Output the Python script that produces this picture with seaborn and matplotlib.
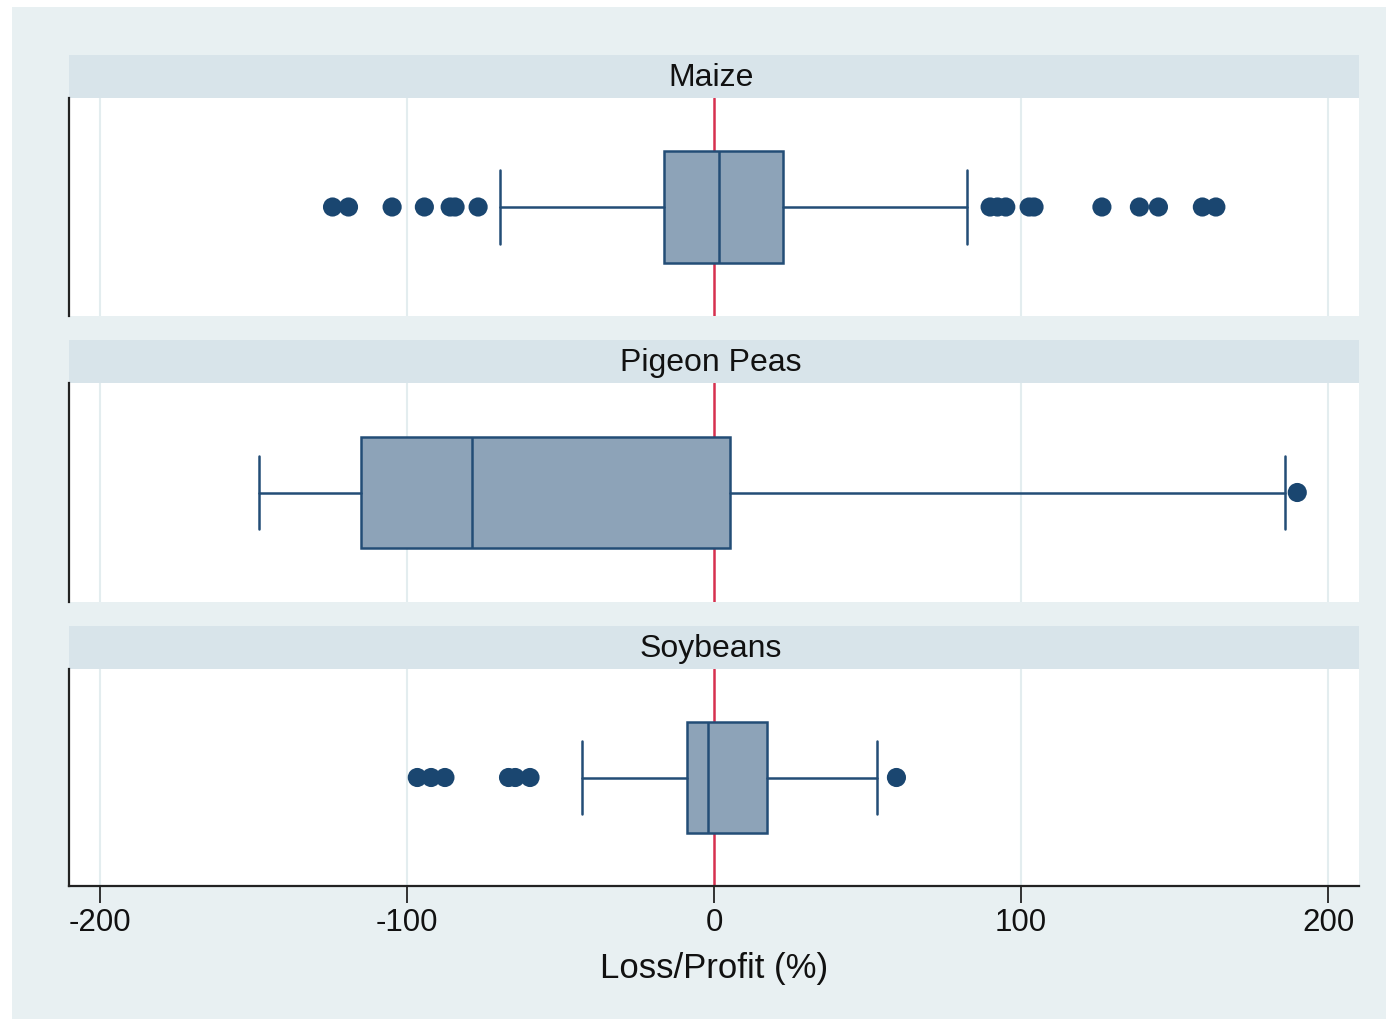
import numpy as np
import pandas as pd
import matplotlib
matplotlib.use("Agg")
import matplotlib.pyplot as plt
from matplotlib.patches import Rectangle
import seaborn as sns

# ---------------- data ----------------
crops = ["Maize", "Pigeon Peas", "Soybeans"]
whisker_low = [-69.6, -148.1, -43.0]
q1 = [-16.3, -114.9, -8.9]
median = [1.6, -78.8, -2.1]
q3 = [22.5, 5.2, 17.1]
whisker_high = [82.3, 185.8, 53.1]
outliers_maize = [-124.2, -119.0, -104.8, -94.3, -85.9, -84.3, -76.8,
                  89.9, 92.3, 95.0, 102.6, 104.2, 126.3, 138.5, 144.7, 159.0, 163.4]
outliers_pigeon = [189.9]
outliers_soy = [-96.6, -92.1, -87.6, -66.9, -64.7, -59.9, 59.4]
outliers = [outliers_maize, outliers_pigeon, outliers_soy]
xticks = [-200, -100, 0, 100, 200]
xlabel = "Loss/Profit (%)"

# ---------------- style ----------------
sns.set_theme(style="white")
plt.rcParams["font.family"] = ["Liberation Sans", "DejaVu Sans"]

BG = "#E8F0F2"
STRIP = "#D8E4EA"
BOX_FILL = "#8DA3B8"
BOX_EDGE = "#234D76"
DOT = "#1A4670"
RED = "#D6304F"
GRID = "#E3EDEF"

W, H = 1386, 1019
fig = plt.figure(figsize=(W / 100, H / 100), dpi=100)
fig.patch.set_facecolor("white")
fig.patches.append(Rectangle((12 / W, 0), 1 - 12 / W, 1 - 7 / H, transform=fig.transFigure,
                             facecolor=BG, edgecolor="none", zorder=-10))

left = 69 / W
width = (1359 - 69) / W
panel_px = [(98, 316), (383, 602), (669, 886)]
strip_h = 43

axes = []
for i, (top, bot) in enumerate(panel_px):
    ax = fig.add_axes([left, (H - bot) / H, width, (bot - top) / H])
    axes.append(ax)
    # header strip
    fig.patches.append(Rectangle((left, (H - top) / H), width, strip_h / H, transform=fig.transFigure,
                                 facecolor=STRIP, edgecolor="none", zorder=-5))
    fig.text(left + width / 2 - 3 / W, (H - top + strip_h / 2 - 1) / H, crops[i], ha="center", va="center",
             fontsize=23, color="#111111", zorder=2)

    ax.set_facecolor("white")
    ax.set_xlim(-210, 210)
    ax.set_ylim(-1, 1)
    for x in [-200, -100, 100, 200]:
        ax.axvline(x, color=GRID, lw=1.5, zorder=0)
    ax.axvline(0, color=RED, lw=1.8, zorder=1)

    stats = [dict(whislo=whisker_low[i], q1=q1[i], med=median[i], q3=q3[i],
                  whishi=whisker_high[i], fliers=[])]
    ax.bxp(stats, positions=[0], widths=1.02, vert=False, patch_artist=True,
           showfliers=False, capwidths=0.67,
           boxprops=dict(facecolor=BOX_FILL, edgecolor=BOX_EDGE, linewidth=1.8),
           medianprops=dict(color=BOX_EDGE, linewidth=1.8),
           whiskerprops=dict(color=BOX_EDGE, linewidth=1.8),
           capprops=dict(color=BOX_EDGE, linewidth=1.8),
           manage_ticks=False, zorder=3)
    df = pd.DataFrame({"value": outliers[i], "y": 0.0})
    sns.scatterplot(data=df, x="value", y="y", ax=ax, color=DOT, s=190,
                    edgecolor="none", zorder=4, legend=False)
    ax.set_ylim(-1, 1)
    ax.set_yticks([])
    ax.set_ylabel("")
    for s in ["top", "right", "bottom"]:
        ax.spines[s].set_visible(False)
    ax.spines["left"].set_color("#222222")
    ax.spines["left"].set_linewidth(1.6)
    if i < 2:
        ax.set_xticks([])
        ax.set_xlabel("")
    else:
        ax.spines["bottom"].set_visible(True)
        ax.spines["bottom"].set_color("#222222")
        ax.spines["bottom"].set_linewidth(1.6)
        ax.set_xticks(xticks)
        ax.set_xticklabels([str(t) for t in xticks], fontsize=22.5, color="#111111")
        ax.tick_params(axis="x", bottom=True, length=12, width=1.3, color="#222222", pad=4)
        ax.set_xlabel(xlabel, fontsize=25, color="#111111", labelpad=10)

fig.savefig("out.png", dpi=100, facecolor=fig.get_facecolor())
